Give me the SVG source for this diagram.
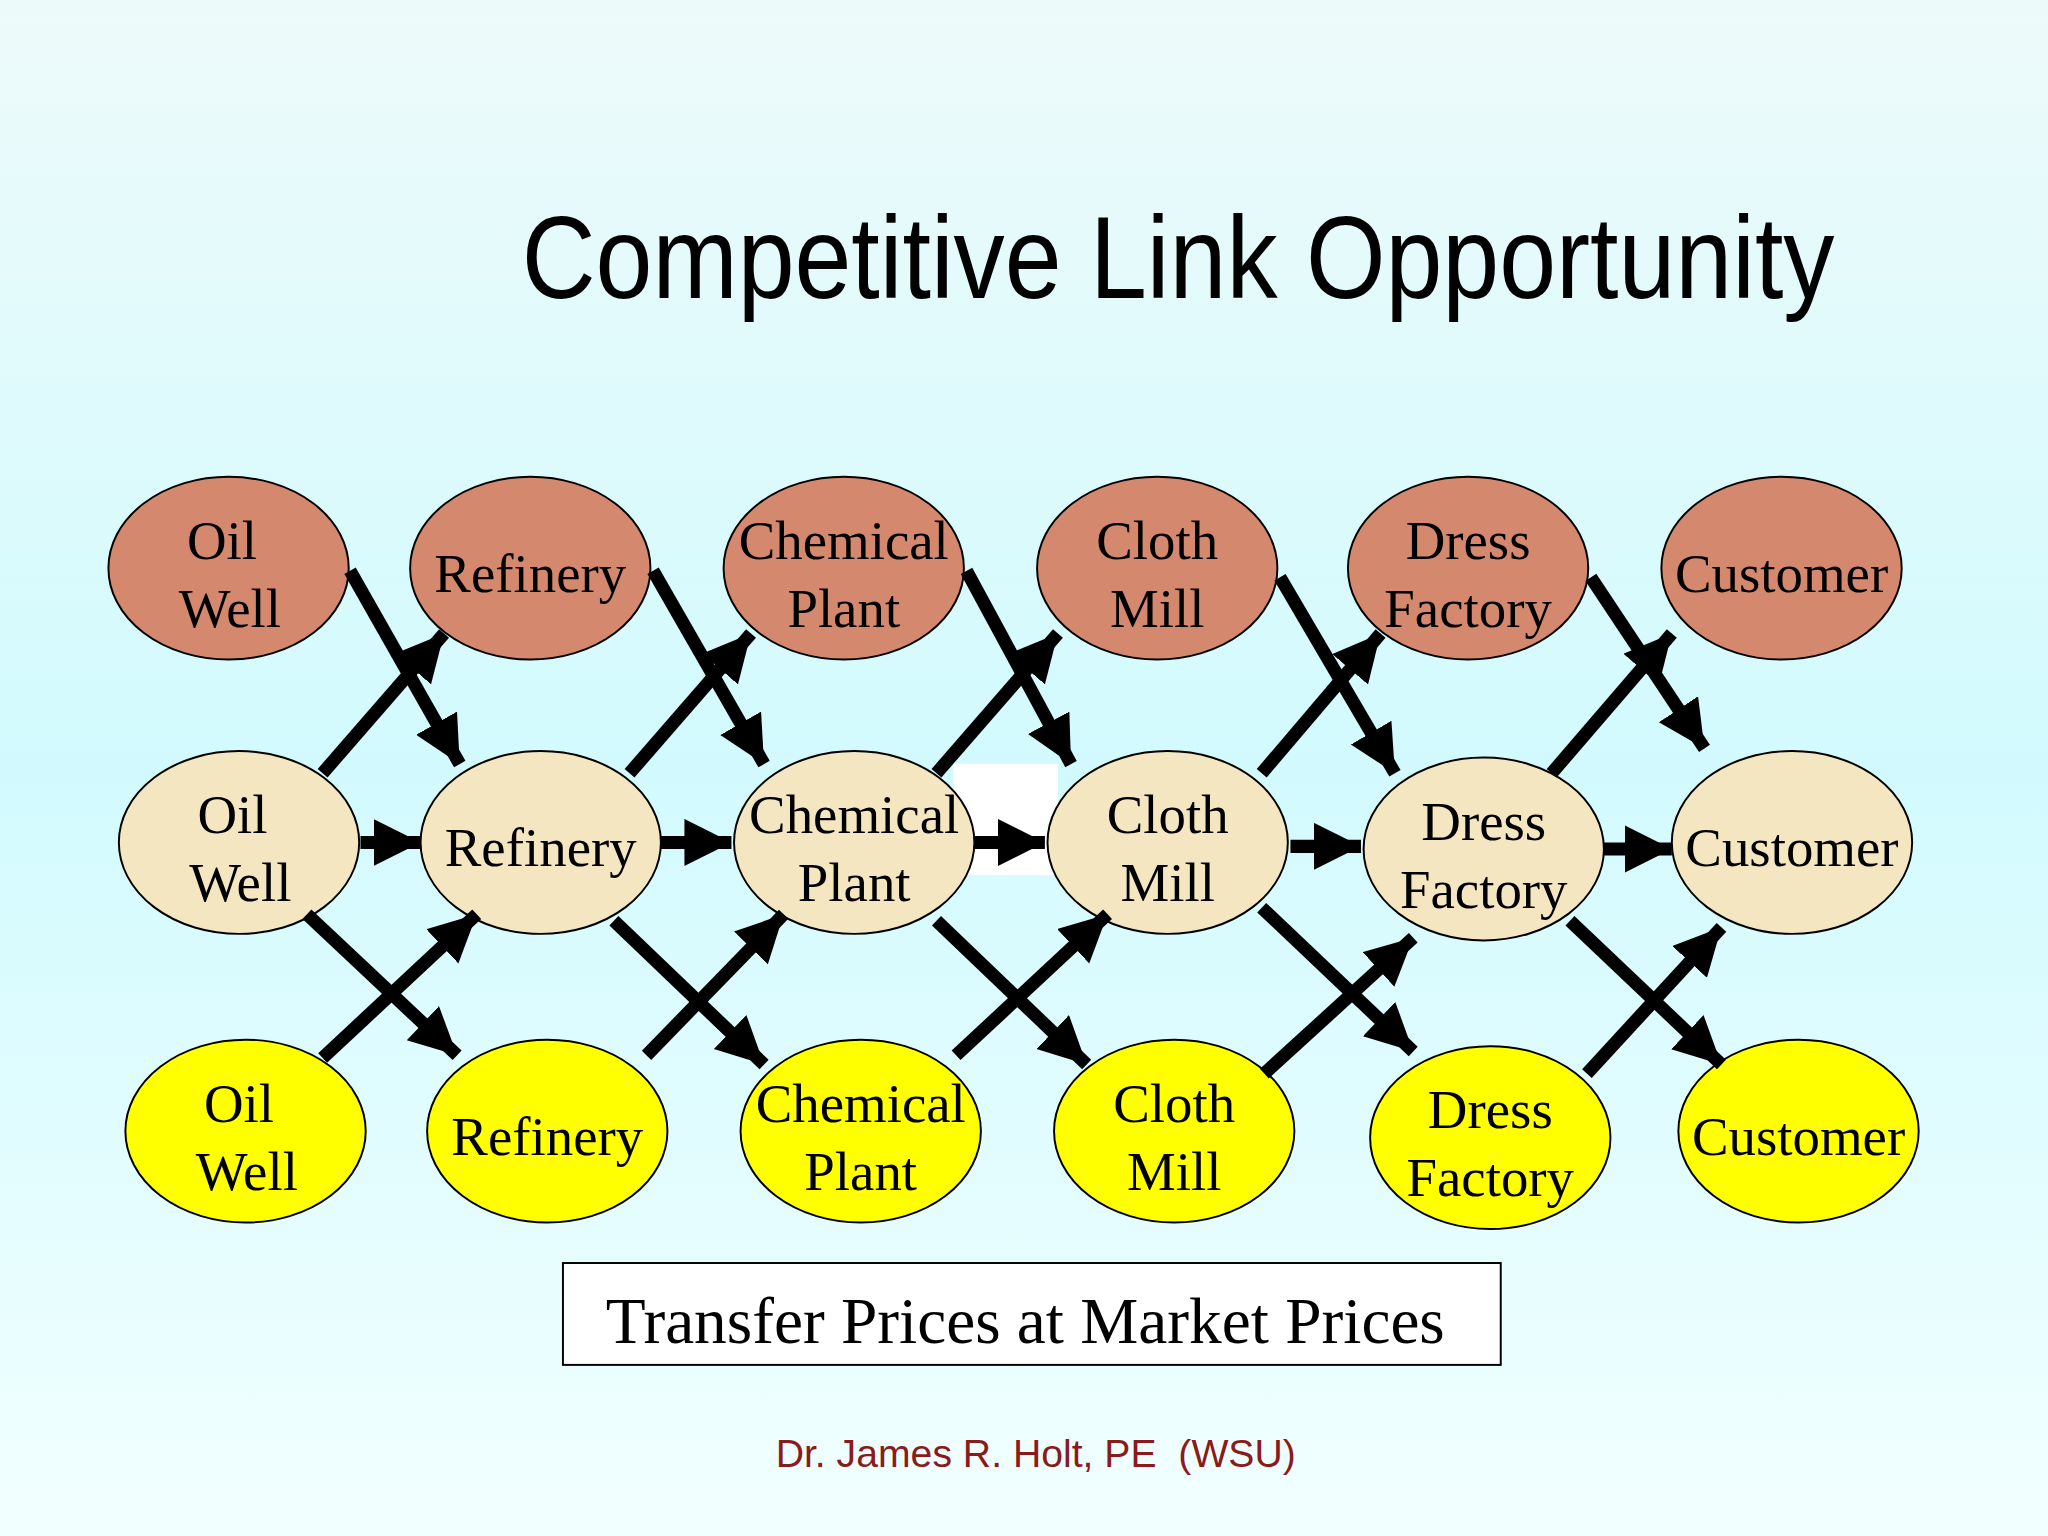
<svg xmlns="http://www.w3.org/2000/svg" width="2048" height="1536" viewBox="0 0 2048 1536">
<defs>
<linearGradient id="bg" x1="0" y1="0" x2="0" y2="1">
<stop offset="0" stop-color="#EEFAFA"/><stop offset="0.5" stop-color="#D2FAFE"/><stop offset="1" stop-color="#F2FFFF"/>
</linearGradient>
<marker id="ah" markerUnits="userSpaceOnUse" markerWidth="40" markerHeight="40" refX="36" refY="18" orient="auto">
<path d="M0,0 L36,18 L0,36 Z" fill="#000"/>
</marker>
<style>
.a{stroke:#000;stroke-width:10;fill:none;marker-end:url(#ah)}
.n ellipse{stroke:#000;stroke-width:1.5}
.r1 ellipse{fill:#D4886E}.r2 ellipse{fill:#F5E6C2}.r3 ellipse{fill:#FFFF00}
.n text{font-family:"Liberation Serif","Times New Roman",serif;font-size:42px;text-anchor:middle;fill:#000}
</style>
</defs>
<rect width="2048" height="1536" fill="url(#bg)"/>
<g transform="scale(1.30612)">
<rect x="730" y="585" width="80" height="85" fill="#fff"/>
<text x="902" y="228" font-family="Liberation Sans,Arial,sans-serif" font-size="90" text-anchor="middle" textLength="1005" lengthAdjust="spacingAndGlyphs">Competitive Link Opportunity</text>

<g id="n1" class="n r1"><ellipse cx="175" cy="435" rx="92" ry="70"/><text x="170" y="428">Oil</text><text x="176" y="480">Well</text></g>
<g id="n2" class="n r1"><ellipse cx="406" cy="435" rx="92" ry="70"/><text x="406" y="453">Refinery</text></g>
<g id="n3" class="n r1"><ellipse cx="646" cy="435" rx="92" ry="70"/><text x="646" y="428">Chemical</text><text x="646" y="480">Plant</text></g>
<g id="n4" class="n r1"><ellipse cx="886" cy="435" rx="92" ry="70"/><text x="886" y="428">Cloth</text><text x="886" y="480">Mill</text></g>
<g id="n5" class="n r1"><ellipse cx="1124" cy="435" rx="92" ry="70"/><text x="1124" y="428">Dress</text><text x="1124" y="480">Factory</text></g>
<g id="n6" class="n r1"><ellipse cx="1364" cy="435" rx="92" ry="70"/><text x="1364" y="453">Customer</text></g>

<g id="m1" class="n r2"><ellipse cx="183" cy="645" rx="92" ry="70"/><text x="178" y="638">Oil</text><text x="184" y="690">Well</text></g>
<g id="m2" class="n r2"><ellipse cx="414" cy="645" rx="92" ry="70"/><text x="414" y="663">Refinery</text></g>
<g id="m3" class="n r2"><ellipse cx="654" cy="645" rx="92" ry="70"/><text x="654" y="638">Chemical</text><text x="654" y="690">Plant</text></g>
<g id="m4" class="n r2"><ellipse cx="894" cy="645" rx="92" ry="70"/><text x="894" y="638">Cloth</text><text x="894" y="690">Mill</text></g>
<g id="m5" class="n r2"><ellipse cx="1136" cy="650" rx="92" ry="70"/><text x="1136" y="643">Dress</text><text x="1136" y="695">Factory</text></g>
<g id="m6" class="n r2"><ellipse cx="1372" cy="645" rx="92" ry="70"/><text x="1372" y="663">Customer</text></g>

<g id="b1" class="n r3"><ellipse cx="188" cy="866" rx="92" ry="70"/><text x="183" y="859">Oil</text><text x="189" y="911">Well</text></g>
<g id="b2" class="n r3"><ellipse cx="419" cy="866" rx="92" ry="70"/><text x="419" y="884">Refinery</text></g>
<g id="b3" class="n r3"><ellipse cx="659" cy="866" rx="92" ry="70"/><text x="659" y="859">Chemical</text><text x="659" y="911">Plant</text></g>
<g id="b4" class="n r3"><ellipse cx="899" cy="866" rx="92" ry="70"/><text x="899" y="859">Cloth</text><text x="899" y="911">Mill</text></g>
<g id="b5" class="n r3"><ellipse cx="1141" cy="871" rx="92" ry="70"/><text x="1141" y="864">Dress</text><text x="1141" y="916">Factory</text></g>
<g id="b6" class="n r3"><ellipse cx="1377" cy="866" rx="92" ry="70"/><text x="1377" y="884">Customer</text></g>

<g id="connectors">
<line class="a" x1="268" y1="437" x2="352" y2="585"/>
<line class="a" x1="500" y1="437" x2="585" y2="585"/>
<line class="a" x1="740" y1="437" x2="820" y2="585"/>
<line class="a" x1="980" y1="442" x2="1068" y2="592"/>
<line class="a" x1="1218" y1="442" x2="1305" y2="573"/>
<line class="a" x1="247" y1="592" x2="340" y2="485"/>
<line class="a" x1="482" y1="592" x2="575" y2="485"/>
<line class="a" x1="717" y1="592" x2="810" y2="485"/>
<line class="a" x1="966" y1="592" x2="1057" y2="485"/>
<line class="a" x1="1188" y1="592" x2="1280" y2="485"/>
<line class="a" x1="276" y1="645" x2="322" y2="645"/>
<line class="a" x1="506" y1="645" x2="560" y2="645"/>
<line class="a" x1="746" y1="645" x2="800" y2="645"/>
<line class="a" x1="988" y1="648" x2="1042" y2="648"/>
<line class="a" x1="1228" y1="650" x2="1280" y2="650"/>
<line class="a" x1="235" y1="700" x2="350" y2="808"/>
<line class="a" x1="470" y1="705" x2="585" y2="815"/>
<line class="a" x1="717" y1="705" x2="832" y2="815"/>
<line class="a" x1="966" y1="695" x2="1082" y2="805"/>
<line class="a" x1="1202" y1="705" x2="1318" y2="815"/>
<line class="a" x1="247" y1="810" x2="365" y2="700"/>
<line class="a" x1="495" y1="808" x2="600" y2="700"/>
<line class="a" x1="732" y1="808" x2="848" y2="700"/>
<line class="a" x1="968" y1="822" x2="1082" y2="718"/>
<line class="a" x1="1215" y1="822" x2="1318" y2="710"/>
</g>

<g id="box">
<rect x="431" y="967" width="718" height="78" fill="#fff" stroke="#000" stroke-width="1.5"/>
<text x="785" y="1028" font-family="Liberation Serif,serif" font-size="50" text-anchor="middle">Transfer Prices at Market Prices</text>
</g>
<text x="793" y="1123" font-family="Liberation Sans,Arial,sans-serif" font-size="30" fill="#8B1A1A" text-anchor="middle" xml:space="preserve">Dr. James R. Holt, PE  (WSU)</text>
</g>
</svg>
